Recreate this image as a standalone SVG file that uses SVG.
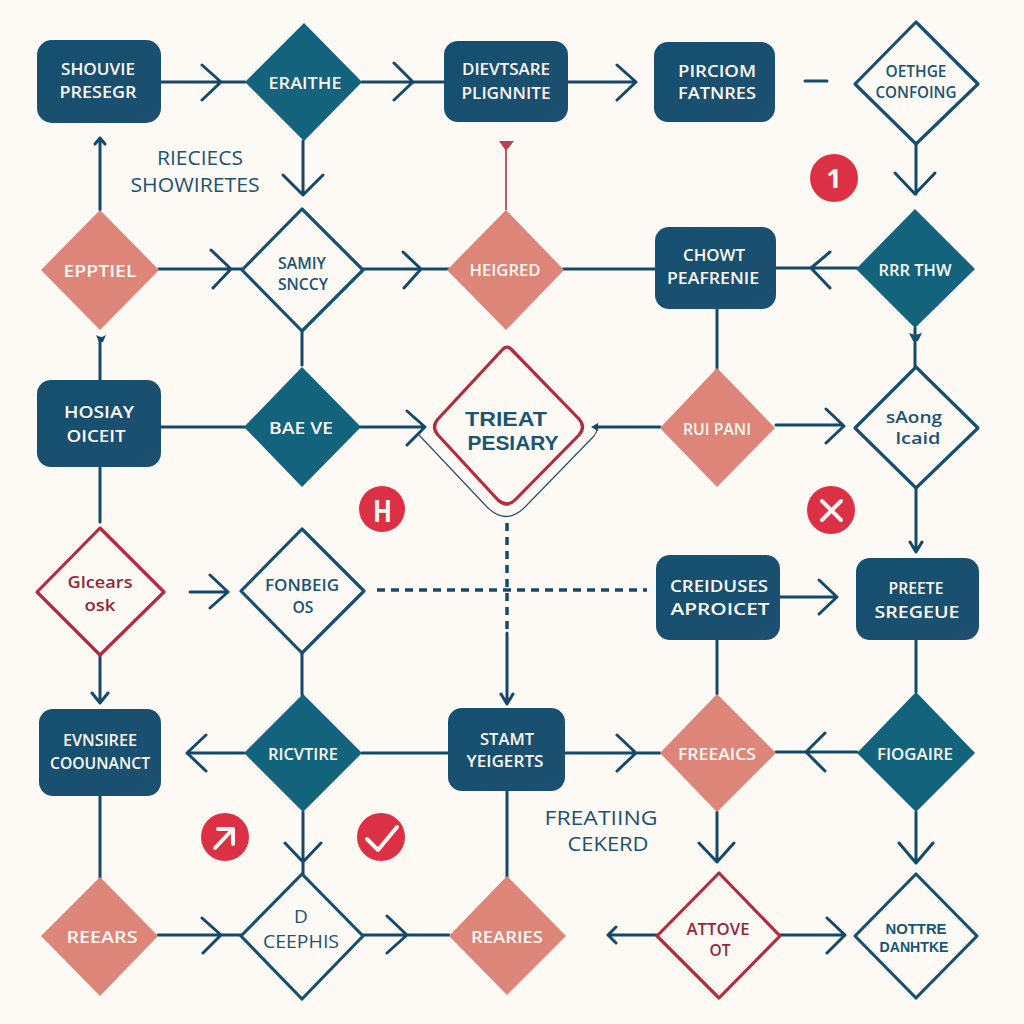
<svg xmlns="http://www.w3.org/2000/svg" width="1024" height="1024" viewBox="0 0 1024 1024">
<style>
text{font-family:"Open Sans","Liberation Sans",sans-serif;text-anchor:middle}
.w{fill:#fdf8f3;font-size:17px;font-weight:600}
.b{fill:#1a5573;font-size:16.5px;font-weight:600}
.r{fill:#96273a;font-size:17px;font-weight:600}
.f{fill:#1d5272;font-size:20px;font-weight:400}
.box{fill:url(#gb)}
.teal{fill:#14637c}
.sal{fill:#dd8578}
.out{fill:#fdf9f5;stroke:#17506e;stroke-width:3.2;stroke-linejoin:round}
.outr{fill:#fdf9f5;stroke:#b42a3e;stroke-width:3.2;stroke-linejoin:round}
.c{fill:none;stroke:#15496a;stroke-width:3;stroke-linecap:round;stroke-linejoin:round}
.head{fill:#15496a}
.badge{fill:#dc3044}
.m{fill:none;stroke:#fdf8f3;stroke-width:4;stroke-linecap:round;stroke-linejoin:round}
.t2{font-family:"Liberation Sans",Arial,sans-serif;font-weight:700}
</style>
<defs>
<linearGradient id="gb" x1="0" y1="0" x2="1" y2="1"><stop offset="0" stop-color="#14506f"/><stop offset="1" stop-color="#1d4f70"/></linearGradient>
</defs>
<rect width="1024" height="1024" fill="#fdf9f4"/>
<g id="connectors">
<path class="c" d="M161 82H245M202 65L221 82L202 100M362 82H444M394 63L413 82L394 100M568 82H636M617 65L636 82L617 100"/>
<path class="c" d="M805 81H827"/>
<path class="c" d="M916 144V194M895 173L915 194L935 173"/>
<path class="c" d="M776 268H857M830 252L811 268L830 288M563 269H655"/>
<path class="c" d="M303 141V195M283 175L303 195L323 175"/>
<path class="c" d="M159 269H242M211 250L231 269L213 288M363 269H449M403 252L421 269L404 288"/>
<path class="c" d="M100 210V138M95 144L100 138L105 144"/>
<path d="M506 210V146" fill="none" stroke="#bd5a64" stroke-width="2"/>
<path d="M499 141H514L506 151Z" fill="#bd3f4e"/>
<path class="c" d="M302 331V365M100 380V338"/>
<path class="head" d="M96 335L100 337H102L106 335L103 342H99Z"/>
<path class="c" d="M161 427H245M360 427H425M407 411L425 427L407 445"/>
<path d="M419 435L487 507Q506 526 525 507L594 436Q598 431 597 426" fill="none" stroke="#2a4f68" stroke-width="1.2"/>
<path class="c" d="M660 427H596M717 309V380M776 425H843M826 409L844 426L826 443"/>
<path class="head" d="M591 427L598 423V431Z"/>
<path class="c" d="M915 328V367"/>
<path d="M909 333L915 335L922 333L918 341H913Z" fill="#14506f"/>
<path class="c" d="M916 488V551M910 542L916 552L922 542"/>
<path class="c" d="M100 467V522M100 655V703M92 693L100 703L108 693M190 592H228M210 575L228 592L210 608"/>
<path class="c" stroke-dasharray="8 6" style="stroke-linecap:butt;stroke-width:3.5" d="M377 590H647M507 523V630"/>
<path class="c" d="M507 633V704M501 694L507 704L513 694M302 653V695"/>
<path class="c" d="M780 597H837M819 580L837 597L819 614"/>
<path class="c" d="M244 753H187M206 735L187 753L206 771M362 753H449M565 753H660M617 735L636 753L617 771M857 752H776M825 733L806 752L825 771"/>
<path class="c" d="M717 640V694M916 640V692M916 812V863M899 843L916 863L933 843M717 812V862M699 843L717 862L734 843"/>
<path class="c" d="M100 796V878M507 791V878M303 812V875M285 843L303 862L321 843"/>
<path class="c" d="M158 935H241M202 918L221 935L203 953M363 935H449M387 916L407 935L387 953"/>
<path class="c" d="M657 935H608M616 927L608 935L616 943M780 935H845M827 918L845 935L827 953"/>
</g>
<g id="n1"><rect class="box" x="37" y="40" width="124" height="83" rx="15"/><text class="w" x="98" y="75" textLength="74" lengthAdjust="spacingAndGlyphs">SHOUVIE</text><text class="w" x="98" y="98" textLength="77" lengthAdjust="spacingAndGlyphs">PRESEGR</text></g>
<g id="n2"><path class="teal" d="M304 23L362 82L304 141L245 82Z"/><text class="w" x="305" y="89" textLength="73" lengthAdjust="spacingAndGlyphs">ERAITHE</text></g>
<g id="n3"><rect class="box" x="444" y="41" width="124" height="81" rx="14"/><text class="w" x="506" y="75" textLength="88" lengthAdjust="spacingAndGlyphs">DIEVTSARE</text><text class="w" x="506" y="99" textLength="89" lengthAdjust="spacingAndGlyphs">PLIGNNITE</text></g>
<g id="n4"><rect class="box" x="654" y="42" width="121" height="80" rx="14"/><text class="w" x="717" y="77" textLength="78" lengthAdjust="spacingAndGlyphs">PIRCIOM</text><text class="w" x="717" y="99" textLength="78" lengthAdjust="spacingAndGlyphs">FATNRES</text></g>
<g id="n5"><path class="out" d="M916 22L978 84L916 144L855 84Z"/><text class="b" x="916" y="77" textLength="61" lengthAdjust="spacingAndGlyphs">OETHGE</text><text class="b" x="916" y="98" textLength="81" lengthAdjust="spacingAndGlyphs">CONFOING</text></g>
<g id="n6"><circle class="badge" cx="834" cy="178" r="24"/><text x="834" y="188" style="fill:#fdf8f3;font-size:27px;font-weight:700">1</text></g>
<g id="n7"><path class="teal" d="M915 209L975 269L915 328L856 269Z"/><text class="w" x="915" y="276" textLength="73" lengthAdjust="spacingAndGlyphs">RRR THW</text></g>
<g id="n8"><rect class="box" x="655" y="227" width="121" height="82" rx="14"/><text class="w" x="714" y="261" textLength="62" lengthAdjust="spacingAndGlyphs">CHOWT</text><text class="w" x="713" y="284" textLength="92" lengthAdjust="spacingAndGlyphs">PEAFRENIE</text></g>
<g id="n9"><path class="sal" d="M506 210L564 270L506 330L447 270Z"/><text class="w" x="505" y="276" textLength="71" lengthAdjust="spacingAndGlyphs">HEIGRED</text></g>
<g id="n10"><path class="out" d="M302 209L363 270L302 331L242 270Z"/><text class="b" x="302" y="269" textLength="48" lengthAdjust="spacingAndGlyphs">SAMIY</text><text class="b" x="303" y="290" textLength="50" lengthAdjust="spacingAndGlyphs">SNCCY</text></g>
<g id="n11"><path class="sal" d="M100 210L159 270L100 330L41 270Z"/><text class="w" x="100" y="277" textLength="73" lengthAdjust="spacingAndGlyphs">EPPTIEL</text></g>
<g id="n12"><path class="teal" d="M302 367L361 427L302 487L244 427Z"/><text class="w" x="301" y="434" textLength="64" lengthAdjust="spacingAndGlyphs">BAE VE</text></g>
<g id="n13"><rect class="box" x="37" y="380" width="124" height="87" rx="14"/><text class="w" x="99" y="418" textLength="70" lengthAdjust="spacingAndGlyphs">HOSIAY</text><text class="w" x="96" y="442" textLength="59" lengthAdjust="spacingAndGlyphs">OICEIT</text></g>
<g id="n14"><path class="outr" d="M503 349Q507 345 511 349L579 419Q586 427 579 435L515 500Q507 508 498 500L438 435Q431 427 438 419Z"/><text class="t2" x="506" y="425.5" textLength="82" lengthAdjust="spacingAndGlyphs" style="fill:#1a5573;font-size:21px">TRIEAT</text><text class="t2" x="513" y="449.5" textLength="91" lengthAdjust="spacingAndGlyphs" style="fill:#1a5573;font-size:21px">PESIARY</text></g>
<g id="n15"><path class="sal" d="M717 368L775 428L717 487L660 428Z"/><text class="w" x="717" y="435" textLength="68" lengthAdjust="spacingAndGlyphs">RUI PANI</text></g>
<g id="n16"><path class="out" d="M916 367L978 428L916 488L855 428Z"/><text class="b" x="914" y="423" textLength="56" lengthAdjust="spacingAndGlyphs">sAong</text><text class="b" x="918" y="444" textLength="45" lengthAdjust="spacingAndGlyphs">lcaid</text></g>
<g id="n17"><circle class="badge" cx="382" cy="509" r="23"/><text x="382.5" y="522" textLength="19" lengthAdjust="spacingAndGlyphs" style="fill:#fdf8f3;font-size:30px;font-weight:700">H</text></g>
<g id="n18"><circle class="badge" cx="831" cy="510" r="24"/><path class="m" d="M822 501L841 520M841 501L822 520"/></g>
<g id="n19"><path class="outr" d="M100 528L164 592L100 655L37 592Z"/><text class="r" x="100" y="588" textLength="65" lengthAdjust="spacingAndGlyphs">Glcears</text><text class="r" x="100" y="611" textLength="31" lengthAdjust="spacingAndGlyphs">osk</text></g>
<g id="n20"><path class="out" d="M302 529L364 591L302 653L241 591Z"/><text class="b" x="302" y="591" textLength="74" lengthAdjust="spacingAndGlyphs">FONBEIG</text><text class="b" x="303" y="613" textLength="21" lengthAdjust="spacingAndGlyphs">OS</text></g>
<g id="n21"><rect class="box" x="656" y="555" width="124" height="85" rx="14"/><text class="w" x="719" y="592" textLength="98" lengthAdjust="spacingAndGlyphs">CREIDUSES</text><text class="w" x="720" y="615" textLength="99" lengthAdjust="spacingAndGlyphs">APROICET</text></g>
<g id="n22"><rect class="box" x="856" y="558" width="123" height="82" rx="14"/><text class="w" x="916" y="594" textLength="55" lengthAdjust="spacingAndGlyphs">PREETE</text><text class="w" x="917" y="618" textLength="85" lengthAdjust="spacingAndGlyphs">SREGEUE</text></g>
<g id="n23"><path class="teal" d="M303 694L362 753L303 812L244 753Z"/><text class="w" x="303" y="760" textLength="70" lengthAdjust="spacingAndGlyphs">RICVTIRE</text></g>
<g id="n24"><rect class="box" x="39" y="709" width="122" height="87" rx="14"/><text class="w" x="100" y="746" textLength="74" lengthAdjust="spacingAndGlyphs">EVNSIREE</text><text class="w" x="100" y="769" textLength="100" lengthAdjust="spacingAndGlyphs">COOUNANCT</text></g>
<g id="n25"><rect class="box" x="448" y="708" width="117" height="83" rx="14"/><text class="w" x="507" y="745" textLength="54" lengthAdjust="spacingAndGlyphs">STAMT</text><text class="w" x="505" y="767" textLength="77" lengthAdjust="spacingAndGlyphs">YEIGERTS</text></g>
<g id="n26"><path class="sal" d="M717 694L776 753L717 812L660 753Z"/><text class="w" x="717" y="760" textLength="78" lengthAdjust="spacingAndGlyphs">FREEAICS</text></g>
<g id="n27"><path class="teal" d="M916 692L975 753L916 812L857 753Z"/><text class="w" x="915" y="760" textLength="76" lengthAdjust="spacingAndGlyphs">FIOGAIRE</text></g>
<g id="n28"><circle class="badge" cx="225" cy="837" r="24"/><path class="m" d="M215 848L232 830M218 829H233V844"/></g>
<g id="n29"><circle class="badge" cx="381" cy="837" r="24"/><path class="m" d="M367 839L378 850L397 827"/></g>
<g id="n30"><path class="out" d="M302 874L363 936L302 999L241 936Z"/><text x="301" y="923" style="fill:#1a5573;font-size:19px">D</text><text class="b" x="301" y="948" textLength="76" lengthAdjust="spacingAndGlyphs" style="font-weight:400;font-size:18px">CEEPHIS</text></g>
<g id="n31"><path class="sal" d="M100 877L158 936L100 996L41 936Z"/><text class="w" x="102" y="943" textLength="71" lengthAdjust="spacingAndGlyphs">REEARS</text></g>
<g id="n32"><path class="sal" d="M507 876L566 936L507 995L449 936Z"/><text class="w" x="507" y="943" textLength="72" lengthAdjust="spacingAndGlyphs">REARIES</text></g>
<g id="n33"><path class="outr" d="M719 873L780 936L719 998L657 936Z"/><text class="r" x="718" y="935" textLength="63" lengthAdjust="spacingAndGlyphs">ATTOVE</text><text class="r" x="720" y="956" textLength="21" lengthAdjust="spacingAndGlyphs">OT</text></g>
<g id="n34"><path class="out" d="M916 874L977 936L916 998L855 936Z"/><text class="b t2" x="916" y="934" textLength="61" lengthAdjust="spacingAndGlyphs" style="font-size:15.5px">NOTTRE</text><text class="b t2" x="914" y="952" textLength="69" lengthAdjust="spacingAndGlyphs" style="font-size:15.5px">DANHTKE</text></g>
<g id="label1"><text class="f" x="200" y="165" textLength="86" lengthAdjust="spacingAndGlyphs">RIECIECS</text><text class="f" x="195" y="192" textLength="129" lengthAdjust="spacingAndGlyphs">SHOWIRETES</text></g>
<g id="label2"><text class="f" x="601" y="825" textLength="113" lengthAdjust="spacingAndGlyphs">FREATIING</text><text class="f" x="608" y="851" textLength="81" lengthAdjust="spacingAndGlyphs">CEKERD</text></g>
</svg>
